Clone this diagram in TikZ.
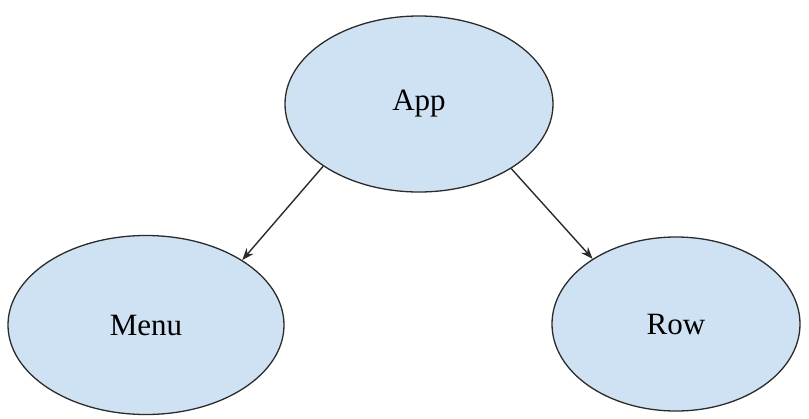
\documentclass[tikz,border=0pt]{standalone}
\usepackage{fontspec}
\setmainfont{Liberation Serif}
\usetikzlibrary{shapes.geometric,arrows.meta}
\definecolor{nodefill}{HTML}{CFE2F3}
\definecolor{nodeline}{HTML}{2B2B2B}
\begin{document}
\begin{tikzpicture}[x=1pt,y=-1pt,
  comp/.style={ellipse,draw=nodeline,line width=1.3pt,fill=nodefill,inner sep=0pt,
    font=\fontsize{31}{36}\selectfont},
  link/.style={draw=nodeline,line width=1.4pt,-{Stealth[length=12pt,width=9pt]}}]
  \useasboundingbox (0,0) rectangle (809,418);
  \node[comp,minimum width=268pt,minimum height=176pt] (app) at (419,104) {App};
  \node[comp,minimum width=276pt,minimum height=179pt] (menu) at (146,325) {Menu};
  \node[comp,minimum width=248pt,minimum height=174pt] (row) at (676,324) {Row};
  \draw[link] (app.213.4) -- (menu.34.5);
  \draw[link] (app.325.5) -- (row.142.8);
\end{tikzpicture}
\end{document}
